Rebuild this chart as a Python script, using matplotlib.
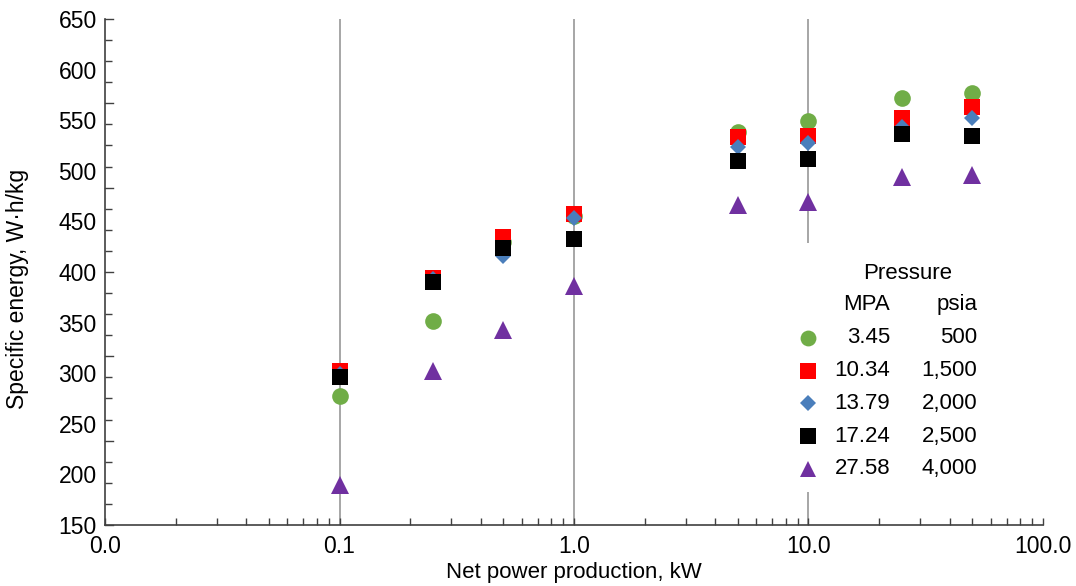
import matplotlib.pyplot as plt
from matplotlib.patches import Rectangle
from matplotlib.ticker import FixedLocator, NullFormatter
import numpy as np

plt.rcParams['font.family'] = ['Liberation Sans', 'DejaVu Sans']

# net power production, kW
power_kw = [0.1, 0.25, 0.5, 1.0, 5.0, 10.0, 25.0, 50.0]

# specific energy, W·h/kg, one list per pressure
energy_3_45 = [277, 352, 430, 455, 538, 549, 572, 577]
energy_10_34 = [302, 394, 435, 457, 533, 534, 552, 563]
energy_13_79 = [299, 393, 416, 453, 524, 527, 543, 552]
energy_17_24 = [296, 390, 424, 433, 510, 512, 536, 534]
energy_27_58 = [190, 302, 343, 386, 466, 469, 494, 496]

pressure_mpa = ["3.45", "10.34", "13.79", "17.24", "27.58"]
pressure_psia = ["500", "1,500", "2,000", "2,500", "4,000"]

series = [energy_3_45, energy_10_34, energy_13_79, energy_17_24, energy_27_58]
colors = ["#70AD47", "#FF0000", "#4A7EBB", "#000000", "#7030A0"]
markers = ["o", "s", "D", "s", "^"]
sizes = [12, 11.5, 8.2, 11.5, 12.5]

grid_x = [0.1, 1.0, 10.0]
x_ticks = [0.01, 0.1, 1.0, 10.0, 100.0]
x_labels = ["0.0", "0.1", "1.0", "10.0", "100.0"]
y_ticks = [150, 200, 250, 300, 350, 400, 450, 500, 550, 600, 650]

fig = plt.figure(figsize=(10.76, 5.86), dpi=100)
ax = fig.add_axes([0.0976, 0.1041, 0.8717, 0.8635])

ax.set_xscale('log')
ax.set_xlim(0.01, 100)
ax.set_ylim(150, 650)

for gx in grid_x:
    ax.axvline(gx, color="#a6a6a6", lw=1.4, zorder=1)

for vals, c, m, s in zip(series, colors, markers, sizes):
    ax.plot(power_kw, vals, linestyle="none", marker=m, color=c,
            markersize=s, markeredgewidth=0, zorder=3)

# legend box (white, covers gridline like the original)
ax.add_patch(Rectangle((0.725, 0.065), 0.229, 0.492, transform=ax.transAxes,
                       facecolor="white", edgecolor="none", zorder=2))
fs = 16
tfs = 16.5
ax.text(0.856, 0.498, "Pressure", transform=ax.transAxes, ha="center",
        va="center", fontsize=fs, zorder=4)
ax.text(0.812, 0.435, "MPA", transform=ax.transAxes, ha="center",
        va="center", fontsize=fs, zorder=4)
ax.text(0.930, 0.435, "psia", transform=ax.transAxes, ha="right",
        va="center", fontsize=fs, zorder=4)
row_y = 0.370
for mpa, psia, c, m, s in zip(pressure_mpa, pressure_psia, colors, markers, sizes):
    ax.plot([0.7495], [row_y], transform=ax.transAxes, linestyle="none",
            marker=m, color=c, markersize=s * 0.95, markeredgewidth=0,
            zorder=4, clip_on=False)
    ax.text(0.837, row_y, mpa, transform=ax.transAxes, ha="right",
            va="center", fontsize=fs, zorder=4)
    ax.text(0.930, row_y, psia, transform=ax.transAxes, ha="right",
            va="center", fontsize=fs, zorder=4)
    row_y -= 0.0648

# axes styling
for side in ["top", "right"]:
    ax.spines[side].set_visible(False)
for side in ["left", "bottom"]:
    ax.spines[side].set_color("#404040")
    ax.spines[side].set_linewidth(1.2)

ax.xaxis.set_major_locator(FixedLocator(x_ticks))
ax.set_xticklabels(x_labels)
ax.xaxis.set_minor_locator(FixedLocator(
    [d * k for d in [0.01, 0.1, 1.0, 10.0] for k in range(2, 10)]))
ax.xaxis.set_minor_formatter(NullFormatter())
ax.tick_params(axis="x", which="both", direction="in", length=5,
               width=1, color="#404040", labelsize=tfs, pad=7)

ax.set_yticks(y_ticks)
ax.tick_params(axis="y", which="major", length=0, labelsize=tfs, pad=6)
k = np.arange(25)
tick_pos = 650 - k * 500 / 24
ax.yaxis.set_minor_locator(FixedLocator(tick_pos[k % 4 != 0]))
ax.tick_params(axis="y", which="minor", direction="in", length=5,
               width=1, color="#404040")
# longer ticks every fourth
for yv in tick_pos[k % 4 == 0]:
    ax.plot([0, 0.009], [yv, yv], transform=ax.get_yaxis_transform(),
            color="#404040", lw=1, clip_on=False, zorder=2)

ax.set_xlabel("Net power production, kW", fontsize=16)
ax.xaxis.set_label_coords(0.5, -0.074)
ax.set_ylabel("Specific energy, W\u00b7h/kg", fontsize=tfs)
ax.yaxis.set_label_coords(-0.081, 0.466)

fig.savefig("out.png", dpi=100)
